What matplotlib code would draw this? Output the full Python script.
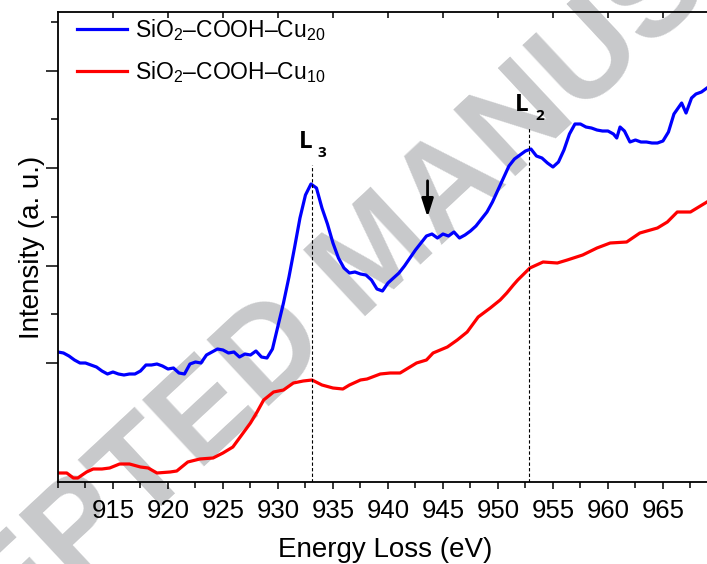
import matplotlib
matplotlib.use("Agg")
import matplotlib.pyplot as plt
from matplotlib.ticker import FixedLocator, MultipleLocator

plt.rcParams['font.family'] = ['Liberation Sans', 'DejaVu Sans']
plt.rcParams['mathtext.fontset'] = 'custom'
plt.rcParams['mathtext.rm'] = 'Liberation Sans'

# SiO2-COOH-Cu20 (blue), energy loss in eV and intensity in a.u.
e_cu20 = [910.0, 910.5, 911.0, 911.5, 912.0, 912.5, 913.0, 913.5, 914.0, 914.5,
          915.0, 915.5, 916.0, 916.5, 917.0, 917.5, 918.0, 918.5, 919.0, 919.5,
          920.0, 920.5, 921.0, 921.5, 922.0, 922.5, 923.0, 923.5, 924.0, 924.5,
          925.0, 925.5, 926.0, 926.5, 927.0, 927.5, 928.0, 928.5, 929.0, 929.5,
          930.0, 930.5, 931.0, 931.5, 932.0, 932.5, 933.0, 933.5, 934.0, 934.5,
          935.0, 935.5, 936.0, 936.5, 937.0, 937.5, 938.0, 938.5, 939.0, 939.5,
          940.0, 940.5, 941.0, 941.5, 942.0, 942.5, 943.0, 943.5, 944.0, 944.5,
          945.0, 945.5, 946.0, 946.5, 947.0, 947.5, 948.0, 948.5, 949.0, 949.5,
          950.0, 950.5, 951.0, 951.5, 952.0, 952.5, 953.0, 953.5, 954.0, 954.5,
          955.0, 955.5, 956.0, 956.5, 957.0, 957.5, 958.0, 958.5, 959.0, 959.5,
          960.0, 960.5, 960.8, 961.1, 961.5, 962.0, 962.5, 963.0, 963.5, 964.0,
          964.5, 965.0, 965.5, 966.0, 966.7, 967.1, 967.6, 968.0, 968.5, 969.0]
i_cu20 = [130, 129, 126, 122, 119, 119, 117, 115, 111, 108,
          110, 108, 107, 108, 108, 111, 117, 117, 118, 116,
          113, 114, 109, 108, 118, 120, 119, 127, 130, 133,
          132, 129, 130, 125, 128, 127, 131, 125, 124, 133,
          156, 179, 205, 234, 264, 287, 298, 294, 274, 258,
          239, 224, 214, 209, 210, 208, 207, 202, 193, 191,
          199, 204, 209, 216, 224, 232, 239, 246, 248, 244,
          248, 246, 250, 244, 247, 251, 256, 263, 270, 280,
          292, 304, 316, 323, 327, 331, 333, 326, 324, 319,
          315, 320, 332, 348, 358, 358, 355, 354, 352, 351,
          351, 348, 344, 355, 351, 340, 342, 340, 340, 339,
          339, 341, 350, 368, 379, 369, 384, 388, 390, 394]

# SiO2-COOH-Cu10 (red)
e_cu10 = [910.0, 910.8, 911.4, 911.8, 912.6, 913.2, 914.0, 914.7, 915.6, 916.5,
          917.5, 918.2, 919.0, 920.2, 920.8, 921.8, 922.9, 924.1, 925.0, 925.9,
          926.5, 927.5, 928.1, 928.7, 929.6, 930.5, 931.4, 932.3, 933.1, 934.0,
          935.0, 935.9, 936.5, 937.5, 938.1, 939.3, 940.2, 941.1, 942.0, 942.6,
          943.5, 944.1, 945.4, 946.3, 947.2, 948.2, 949.3, 950.2, 950.8, 951.4,
          951.8, 952.9, 954.1, 955.4, 956.3, 957.7, 959.0, 960.2, 961.7, 962.9,
          964.5, 965.4, 966.3, 967.5, 968.1, 969.0]
i_cu10 = [9, 9, 4, 4, 10, 13, 13, 14, 18, 18,
          15, 14, 9, 10, 11, 20, 23, 24, 29, 35,
          44, 59, 70, 82, 90, 92, 99, 101, 102, 97,
          94, 93, 97, 102, 103, 108, 109, 109, 115, 119,
          122, 129, 135, 142, 150, 165, 174, 182, 189, 197,
          202, 214, 220, 219, 222, 227, 234, 239, 240, 249,
          254, 260, 270, 270, 274, 280]

# edge positions and marker
e_l3, top_l3 = 933.1, 317
e_l2, top_l2 = 952.8, 354
e_arrow, arrow_tail, arrow_tip = 943.6, 304, 262

fig = plt.figure(figsize=(7.07, 5.64), dpi=100)
ax = fig.add_axes([0.082, 0.1454, 0.9257, 0.8333])
ax.patch.set_alpha(0)

# watermark behind the plot
fig.text(0.535, 0.545, "ACCEPTED MANUSCRIPT", fontsize=95, fontweight='bold',
         color='#c8c9cb', rotation=43, ha='center', va='center',
         rotation_mode='anchor', zorder=-10)

ax.plot(e_cu20, i_cu20, color='#0000ff', lw=2.3,
        label=r'SiO$\mathregular{_2}$–COOH–Cu$\mathregular{_{20}}$')
ax.plot(e_cu10, i_cu10, color='#ff0000', lw=2.3,
        label=r'SiO$\mathregular{_2}$–COOH–Cu$\mathregular{_{10}}$')

ax.plot([e_l3, e_l3], [0, top_l3], color='black', lw=0.8, ls=(0, (3, 2)))
ax.plot([e_l2, e_l2], [0, top_l2], color='black', lw=0.8, ls=(0, (3, 2)))
ax.text(e_l3 - 0.6, top_l3 + 11, "L", fontsize=17.5, fontweight='bold',
        family='Open Sans', ha='center', va='bottom')
ax.text(e_l3 + 0.9, top_l3 + 5, "3", fontsize=11, fontweight='bold',
        family='Open Sans', ha='center', va='bottom')
ax.text(e_l2 - 0.6, top_l2 + 11, "L", fontsize=17.5, fontweight='bold',
        family='Open Sans', ha='center', va='bottom')
ax.text(e_l2 + 1.0, top_l2 + 5, "2", fontsize=11, fontweight='bold',
        family='Open Sans', ha='center', va='bottom')
ax.annotate("", xy=(e_arrow, arrow_tip), xytext=(e_arrow, arrow_tail),
            arrowprops=dict(arrowstyle='-|>,head_width=0.35,head_length=1.1',
                            color='black', lw=2))

ax.set_xlim(910, 969.5)
ax.set_ylim(0, 470)
ax.xaxis.set_minor_locator(MultipleLocator(2.5))
ax.set_xticks([915, 920, 925, 930, 935, 940, 945, 950, 955, 960, 965])
ax.yaxis.set_major_locator(FixedLocator([119, 216, 314, 411]))
ax.yaxis.set_minor_locator(FixedLocator([168, 265, 363, 460]))
ax.set_yticklabels([])
ax.tick_params(axis='x', which='major', direction='out', length=5, width=1.1,
               labelsize=18.5, pad=7)
ax.tick_params(axis='x', which='minor', direction='out', length=4, width=1.1)
ax.tick_params(axis='y', which='major', direction='out', length=9, width=1.1)
ax.tick_params(axis='y', which='minor', direction='out', length=5, width=1.1)

# inward ticks on the top spine
sec = ax.secondary_xaxis('top')
sec.set_xticks([915, 920, 925, 930, 935, 940, 945, 950, 955, 960, 965])
sec.tick_params(direction='in', length=4, width=1.1, labeltop=False)
sec.spines['top'].set_visible(False)

for s in ['left', 'bottom', 'top']:
    ax.spines[s].set_linewidth(1.3)
ax.spines['right'].set_visible(False)

ax.set_xlabel("Energy Loss (eV)", fontsize=20, labelpad=10)
ax.set_ylabel("Intensity (a. u.)", fontsize=20, labelpad=-3)

ax.legend(loc='upper left', bbox_to_anchor=(0.029, 0.99), frameon=False,
          fontsize=16.5, handlelength=2.2, handletextpad=0.35,
          borderaxespad=0, borderpad=0, labelspacing=0.7)

fig.savefig("out.png", dpi=100)
